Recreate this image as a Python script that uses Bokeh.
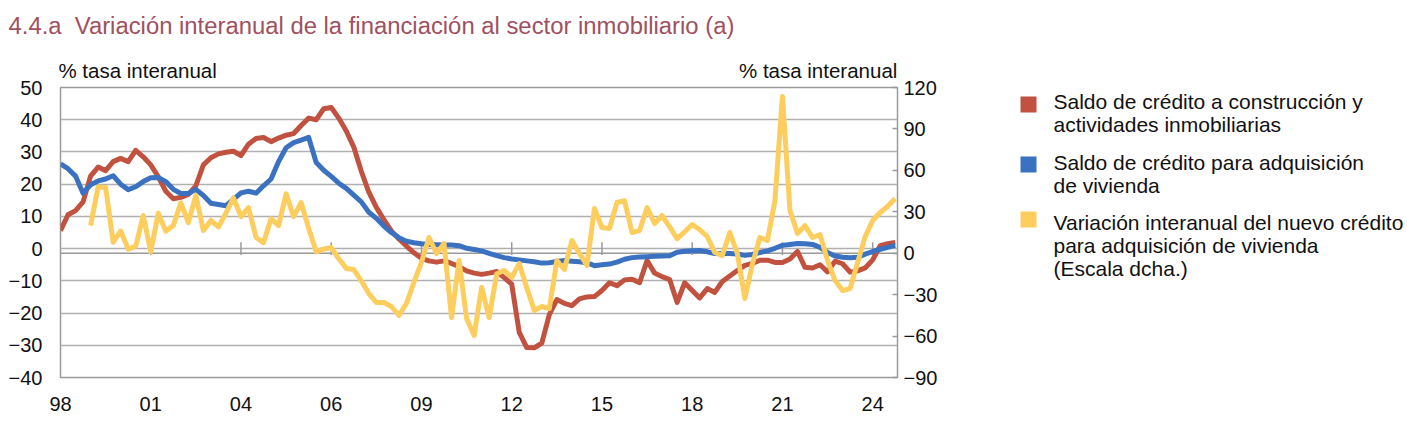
from bokeh.plotting import figure
from bokeh.models import Range1d, LinearAxis, FixedTicker, ColumnDataSource, Title
from bokeh.layouts import row
from bokeh.embed import file_html
from bokeh.resources import INLINE
from bokeh.core.properties import value

NAN = float("nan")

# Quarterly observations, first quarter of 1998 onwards
tick_pos = [0, 12, 24, 36, 48, 60, 72, 84, 96, 108]
tick_labels = ["98", "01", "04", "06", "09", "12", "15", "18", "21", "24"]

# Saldo de crédito a construcción y actividades inmobiliarias (% interanual, eje izq.)
construccion = [
    5.6, 10.5, 11.8, 14.5, 22.5, 25.3, 24.2, 27.0, 28.0, 27.0,
    30.5, 28.5, 26.0, 22.3, 17.8, 15.5, 15.9, 16.8, 19.5, 26.0,
    28.2, 29.4, 29.9, 30.2, 28.9, 32.4, 34.2, 34.5, 33.2, 34.3,
    35.2, 35.7, 38.2, 40.5, 40.0, 43.4, 43.8, 40.5, 36.5, 31.5,
    24.0, 17.5, 12.8, 9.0, 5.5, 3.0, 0.8, -1.3, -3.0, -3.8,
    -4.2, -3.8, -4.6, -5.6, -6.9, -7.6, -8.0, -7.6, -7.1, -9.0,
    -11.0, -26.0, -30.7, -30.8, -29.3, -20.5, -15.8, -17.0, -17.7, -15.6,
    -15.0, -14.9, -13.0, -10.6, -11.5, -9.7, -9.5, -10.6, -3.7, -7.6,
    -8.7, -9.6, -16.7, -10.6, -13.0, -15.3, -12.4, -13.6, -10.2, -8.5,
    -6.8, -5.2, -4.6, -3.6, -3.6, -4.3, -4.3, -3.2, -0.9, -5.8,
    -6.0, -5.0, -7.2, -3.9, -4.7, -7.3, -6.9, -6.0, -3.5, 0.9,
    1.5, 1.9,
]

# Saldo de crédito para adquisición de vivienda (% interanual, eje izq.)
vivienda = [
    26.3, 24.8, 22.5, 17.2, 19.8, 21.0, 21.6, 22.6, 20.0, 18.3,
    19.2, 20.8, 22.0, 22.1, 20.8, 18.4, 17.1, 17.1, 18.4, 16.5,
    14.1, 13.7, 13.3, 15.3, 17.3, 17.8, 17.2, 19.5, 21.6, 27.0,
    31.3, 32.9, 33.7, 34.5, 26.7, 24.3, 22.4, 20.3, 18.7, 16.6,
    14.5, 11.3, 9.4, 7.0, 5.0, 3.4, 2.3, 1.8, 1.5, 1.3,
    1.2, 1.1, 1.1, 0.9, 0.1, -0.3, -0.7, -1.5, -2.2, -2.8,
    -3.2, -3.5, -3.8, -4.1, -4.5, -4.4, -4.0, -3.7, -3.9, -4.1,
    -4.4, -5.3, -5.0, -4.8, -4.2, -3.3, -2.8, -2.6, -2.5, -2.4,
    -2.3, -2.2, -1.1, -0.8, -0.7, -0.6, -1.0, -1.5, -1.5, -1.5,
    -1.7, -2.1, -1.8, -1.2, -0.7, 0.1, 1.0, 1.3, 1.6, 1.5,
    1.3, 0.4, -1.2, -2.3, -2.7, -2.8, -2.7, -1.7, -0.9, -0.2,
    0.4, 1.0,
]

# Variación interanual del nuevo crédito para adquisición de vivienda (eje dcho.)
nuevo_credito = [
    NAN, NAN, NAN, NAN, 20.0, 48.0, 47.6, 8.0, 16.0, 3.0,
    5.0, 27.3, 1.0, 29.0, 16.0, 20.0, 36.5, 22.2, 41.8, 16.4,
    23.7, 19.0, 29.0, 40.0, 26.5, 33.0, 11.4, 7.7, 25.0, 20.0,
    43.0, 26.5, 36.7, 18.0, 1.0, 3.0, 4.1, -4.0, -11.0, -11.8,
    -20.0, -29.2, -35.7, -35.7, -38.6, -45.1, -36.4, -21.0, -6.7, 11.4,
    -0.2, 7.0, -46.6, -5.3, -47.3, -59.6, -24.8, -46.6, -14.9, -12.5,
    -17.6, -7.5, -25.0, -41.5, -38.6, -40.1, -5.3, -11.8, 9.2, 0.0,
    -8.9, 32.4, 18.6, 17.9, 36.7, 38.0, 15.0, 16.4, 33.1, 21.5,
    27.3, 19.0, 10.6, 15.5, 20.8, 17.0, 12.1, 0.5, -1.7, 15.0,
    -0.2, -32.8, -8.0, 11.4, 9.2, 38.0, 113.5, 30.9, 14.3, 20.0,
    11.4, 13.5, -5.3, -19.8, -27.0, -25.6, -6.7, 12.0, 23.7, 29.5,
    34.0, 39.6,
]

quarters = list(range(len(construccion)))

series_names = [
    ["Saldo de crédito a construcción y", "actividades inmobiliarias"],
    ["Saldo de crédito para adquisición", "de vivienda"],
    ["Variación interanual del nuevo crédito", "para adquisición de vivienda", "(Escala dcha.)"],
]
axis_title = "% tasa interanual"
chart_title = "4.4.a\u00a0\u00a0Variación interanual de la financiación al sector inmobiliario (a)"

RED = "#c0523f"
BLUE = "#3a72c1"
YELLOW = "#fdcd5e"
GRID = "#b0b0b0"
AXIS = "#9a9a9a"
TITLE_COLOR = "#a0505e"
INK = "#111111"
FONT = "Liberation Sans"

X_END = 111.3
left_rng = (-40, 50)
right_rng = (-90, 120)

W_CHART, H = 960, 424
B_LEFT, B_RIGHT, B_TOP, B_BOTTOM = 60, 63, 87, 47


def style_labels(ax, standoff, size="20px"):
    ax.axis_line_color = None
    ax.major_tick_line_color = None
    ax.minor_tick_line_color = None
    ax.major_label_standoff = standoff
    ax.major_label_text_font = FONT
    ax.major_label_text_font_size = size
    ax.major_label_text_color = INK


p = figure(
    width=W_CHART, height=H,
    x_range=Range1d(0, X_END), y_range=Range1d(*left_rng),
    toolbar_location=None, output_backend="svg",
    min_border_left=B_LEFT, min_border_right=B_RIGHT,
    min_border_top=B_TOP, min_border_bottom=B_BOTTOM,
)
p.title = Title(text=chart_title, align="left", offset=8 - B_LEFT, standoff=14,
                vertical_align="top", text_font=FONT, text_font_size="23.85px",
                text_font_style="normal", text_color=TITLE_COLOR)
p.extra_y_ranges = {"right": Range1d(*right_rng)}
p.background_fill_color = "white"
p.border_fill_color = "white"
p.outline_line_color = AXIS
p.outline_line_width = 1.5

# left axis
ly = p.left[0]
ly.ticker = FixedTicker(ticks=list(range(-40, 51, 10)))
style_labels(ly, 18)
ly.major_tick_out = 0
ly.major_tick_in = 0

# right axis
ra = LinearAxis(y_range_name="right", ticker=FixedTicker(ticks=list(range(-90, 121, 30))))
style_labels(ra, 6)
ra.major_tick_in = 5
ra.major_tick_out = 0
ra.major_tick_line_color = AXIS
ra.major_tick_line_width = 1.5
p.add_layout(ra, "right")

# bottom axis: labels only
bx = p.below[0]
bx.ticker = FixedTicker(ticks=tick_pos)
bx.major_label_overrides = {t: l for t, l in zip(tick_pos, tick_labels)}
style_labels(bx, 13)

# unit captions above both vertical axes
cap_pos = [10.25, 100.75]
ta = LinearAxis(ticker=FixedTicker(ticks=cap_pos),
                major_label_overrides={cap_pos[0]: axis_title, cap_pos[1]: axis_title})
style_labels(ta, 0, "20.5px")
p.add_layout(ta, "above")
# small gap between the captions and the chart title
p.add_layout(Title(text=" ", text_font_size="5px", standoff=0), "above")

p.xgrid.visible = False
p.ygrid.ticker = FixedTicker(ticks=list(range(-40, 51, 10)))
p.ygrid.grid_line_color = GRID
p.ygrid.grid_line_width = 1.5

# category axis line (right-scale zero) and its tick marks
p.line(x=[0, X_END], y=[0, 0], y_range_name="right", line_color=AXIS, line_width=1.5)
p.segment(x0=tick_pos[1:], x1=tick_pos[1:], y0=[-2.0] * 9, y1=[2.0] * 9,
          line_color=AXIS, line_width=1.5)

src = ColumnDataSource(dict(q=quarters, c=construccion, v=vivienda, n=nuevo_credito))
p.line("q", "c", source=src, line_color=RED, line_width=5, line_join="round")
p.line("q", "v", source=src, line_color=BLUE, line_width=5, line_join="round")
p.line("q", "n", source=src, y_range_name="right", line_color=YELLOW, line_width=5,
       line_join="round")

# legend panel, drawn in canvas pixel units (frame aligned with the chart frame)
W_LEG = 1407 - W_CHART
leg = figure(width=W_LEG, height=H, x_range=Range1d(0, W_LEG),
             y_range=Range1d(H - B_BOTTOM, B_TOP),
             toolbar_location=None, output_backend="svg",
             min_border_left=0, min_border_right=0,
             min_border_top=B_TOP, min_border_bottom=B_BOTTOM,
             x_axis_location=None, y_axis_location=None)
leg.grid.visible = False
leg.outline_line_color = None
leg.background_fill_color = "white"
leg.border_fill_color = "white"

sq_x = 1028 - W_CHART
txt_x = 1053 - W_CHART
sq_y = [104, 164, 219]
line_y = [[101, 124], [162, 185], [222, 245, 268]]
for color, sy, names, ys in zip([RED, BLUE, YELLOW], sq_y, series_names, line_y):
    leg.rect(x=[sq_x], y=[sy], width=16, height=16, fill_color=color, line_color=None)
    leg.text(x=[txt_x] * len(names), y=ys, text=names, text_baseline="middle",
             text_align="left", text_font=value(FONT), text_font_size="21px",
             text_color=INK)

layout = row(p, leg)
open("out.html", "w").write(file_html(layout, INLINE))
